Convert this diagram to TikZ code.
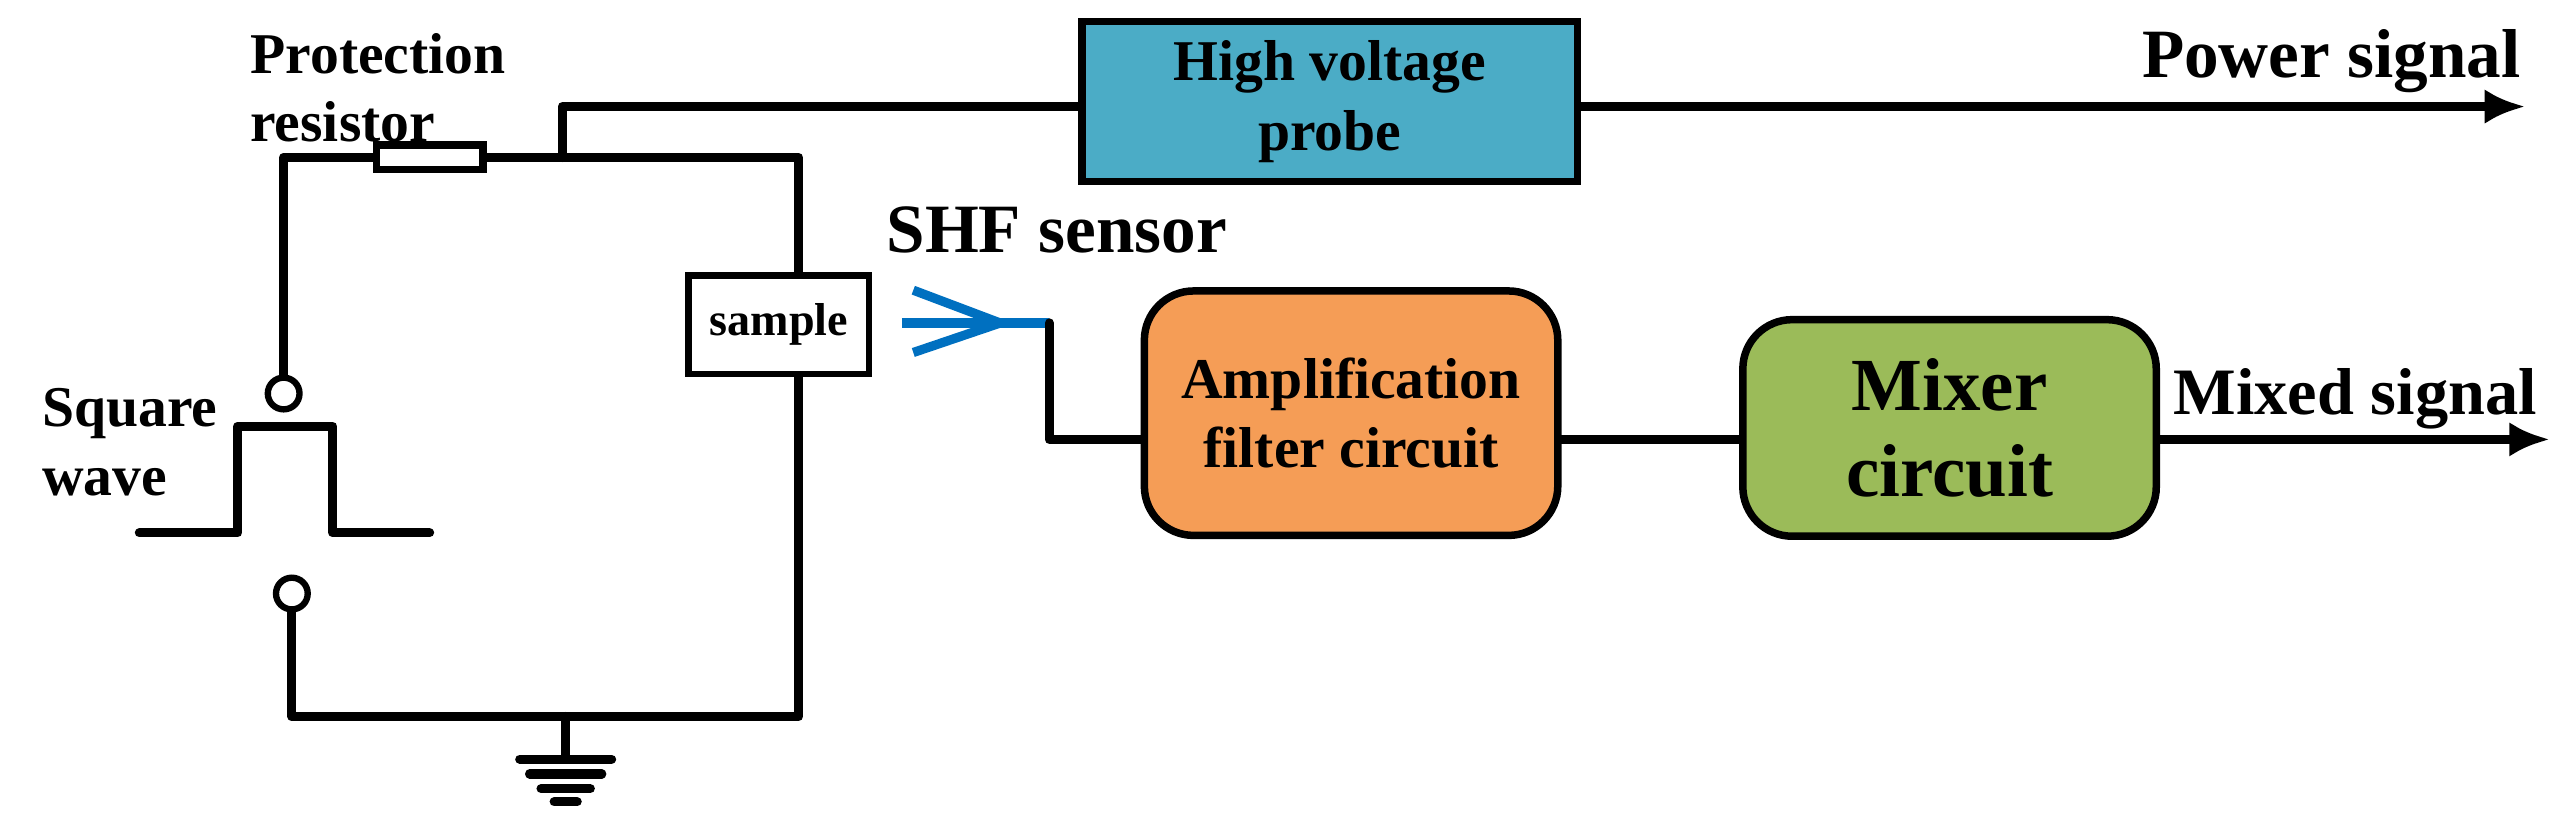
\documentclass[tikz,border=0pt]{standalone}
\usepackage{fontspec}
\setmainfont{Liberation Serif}
\usetikzlibrary{arrows.meta}
\definecolor{probeblue}{HTML}{4BACC6}
\definecolor{amporange}{HTML}{F59D56}
\definecolor{mixgreen}{HTML}{9BBB59}
\definecolor{antblue}{HTML}{0070C0}
\tikzset{
  wire/.style={line width=1.6pt, line cap=round, line join=round},
  lbl/.style={font=\bfseries\fontsize{10}{11}\selectfont, inner sep=0pt, align=left},
  block/.style={draw, line width=1.3pt, align=center, font=\bfseries\fontsize{10}{12}\selectfont},
  term/.style={circle, draw, line width=1.1pt, inner sep=0pt, minimum size=5.5pt}
}
\begin{document}
\begin{tikzpicture}[x=0.01cm, y=-0.01cm]
        \useasboundingbox (0,0) rectangle (1568,510);

        % Left circuit
        \node[draw, line width=1.3pt, minimum width=0.65cm, minimum height=0.15cm, inner sep=0pt] (res) at (262,96) {};
        \node[term] (t1) at (173,240) {};
        \node[term] (t2) at (178,362) {};
        \node[draw, line width=1.1pt, minimum width=1.1cm, minimum height=0.6cm, inner sep=0pt, font=\bfseries\fontsize{8}{9}\selectfont] (smp) at (475,198) {sample};
        \coordinate (gnd) at (345,463);

        \draw[wire] (t1) -- (173,96) -- (res.west);
        \draw[wire] (res.east) -- (487,96) -- (smp.north -| 487,0);
        \draw[wire] (smp.south -| 487,0) -- (487,437) -- (178,437) -- (t2);
        \draw[wire] (345,437) -- (gnd);
        \draw[wire] (317,463) -- (373,463);
        \draw[wire] (323,472) -- (367,472);
        \draw[wire] (330,481) -- (360,481);
        \draw[wire] (338,489) -- (352,489);

        % Square wave
        \draw[wire] (85,325) -- (145,325) -- (145,260) -- (203,260) -- (203,325) -- (262,325);
        \node[lbl, anchor=west] at (25,252) {Square};
        \node[lbl, anchor=west] at (25,294) {wave};
        \node[lbl, anchor=west] at (152,33) {Protection};
        \node[lbl, anchor=west] at (152,74) {resistor};

        % Power branch
        \node[block, fill=probeblue, minimum width=3.02cm, minimum height=0.8cm] (probe) at (811,62) {High voltage\\probe};
        \coordinate (pout) at (1540,65);
        \draw[wire] (343,96) -- (343,65) -- (probe.west |- 0,65);
        \draw[wire, -{Latex[length=7pt,width=6pt]}] (probe.east |- 0,65) -- (pout);
        \node[lbl, anchor=east, font=\bfseries\fontsize{12}{13}\selectfont] at (1538,37) {Power signal};

        % SHF sensor
        \node[lbl, anchor=west, font=\bfseries\fontsize{12}{13}\selectfont] at (540,140) {SHF sensor};
        \coordinate (ant) at (610,197);
        \draw[line width=1.6pt, antblue] (557,177) -- (ant) -- (557,215);
        \draw[line width=1.6pt, antblue] (550,197) -- (640,197);

        % Signal chain
        \node[block, fill=amporange, rounded corners=0.3cm, minimum width=2.52cm, minimum height=1.49cm] (amp) at (824,252) {Amplification\\filter circuit};
        \node[block, fill=mixgreen, rounded corners=0.3cm, minimum width=2.52cm, minimum height=1.32cm, font=\bfseries\fontsize{13}{15}\selectfont] (mix) at (1189,261) {Mixer\\circuit};
        \coordinate (mout) at (1555,268);
        \draw[wire] (640,197) -- (640,268) -- (amp.west |- 0,268);
        \draw[wire] (amp.east |- 0,268) -- (mix.west |- 0,268);
        \draw[wire, -{Latex[length=7pt,width=6pt]}] (mix.east |- 0,268) -- (mout);
        \node[lbl, anchor=west, font=\bfseries\fontsize{11.5}{13}\selectfont] at (1325,243) {Mixed signal};
\end{tikzpicture}
\end{document}
